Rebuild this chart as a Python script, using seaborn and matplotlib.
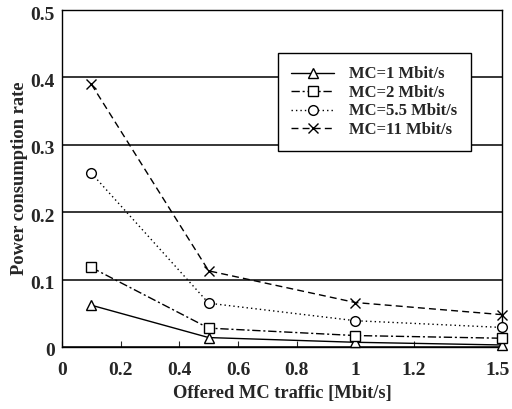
import matplotlib
matplotlib.use("Agg")
import matplotlib.pyplot as plt
import matplotlib.transforms as mtransforms
import seaborn as sns
import pandas as pd

traffic = [0.1, 0.5, 1.0, 1.5]
mc1 = [0.062, 0.014, 0.007, 0.003]
mc2 = [0.118, 0.028, 0.017, 0.013]
mc55 = [0.258, 0.065, 0.039, 0.029]
mc11 = [0.390, 0.113, 0.066, 0.048]
series_names = ["MC=1 Mbit/s", "MC=2 Mbit/s", "MC=5.5 Mbit/s", "MC=11 Mbit/s"]
xtick_vals = [0, 0.2, 0.4, 0.6, 0.8, 1.0, 1.2, 1.5]
xtick_labels = ["0", "0.2", "0.4", "0.6", "0.8", "1", "1.2", "1.5"]
ytick_vals = [0, 0.1, 0.2, 0.3, 0.4, 0.5]
ytick_labels = ["0", "0.1", "0.2", "0.3", "0.4", "0.5"]

rows = []
for name, vals in zip(series_names, [mc1, mc2, mc55, mc11]):
    for x, y in zip(traffic, vals):
        rows.append({"traffic": x, "rate": y, "series": name})
df = pd.DataFrame(rows)

sns.set_style("white")
plt.rcParams["font.family"] = ["Liberation Serif", "DejaVu Serif"]

fig = plt.figure(figsize=(5.12, 4.09), dpi=100)
ax = fig.add_axes([62/512, 1 - 347/409, 440/512, 337/409])

styles = {
    series_names[0]: ("^", (None, None)),
    series_names[1]: ("s", (6, 2, 1.5, 2)),
    series_names[2]: ("o", (1, 2.2)),
    series_names[3]: ("x", (5, 3)),
}
handles = []
for name in series_names:
    mk, ds = styles[name]
    sub = df[df["series"] == name]
    n_before = len(ax.lines)
    sns.lineplot(data=sub, x="traffic", y="rate", color="black", marker=mk,
                 linewidth=1.0, markersize=7, markerfacecolor="white",
                 markeredgecolor="black", markeredgewidth=1.0,
                 legend=False, ax=ax, clip_on=False, zorder=3)
    line = ax.lines[n_before]
    if ds[0] is not None:
        line.set_dashes(ds)
    handles.append(line)

ax.set_xlim(0, 1.5)
ax.set_ylim(0, 0.5)
ax.set_xticks(xtick_vals)
ax.set_xticklabels(xtick_labels, fontsize=14, fontweight="bold")
ax.set_yticks(ytick_vals)
ax.set_yticklabels(ytick_labels, fontsize=14, fontweight="bold")
ax.tick_params(axis="x", direction="in", length=4, width=0.8, pad=11, bottom=True)
ax.tick_params(axis="y", length=0, pad=5)
off = mtransforms.ScaledTranslation(0, -0.03, fig.dpi_scale_trans)
for lab in ax.get_yticklabels():
    lab.set_transform(lab.get_transform() + off)
last = ax.get_xticklabels()[-1]
last.set_transform(last.get_transform() + mtransforms.ScaledTranslation(-0.04, 0, fig.dpi_scale_trans))
ax.yaxis.grid(True, color="black", linewidth=1.1)
ax.xaxis.grid(False)
for s in ax.spines.values():
    s.set_color("black")
    s.set_linewidth(1.0)

ax.set_xlabel("Offered MC traffic [Mbit/s]", fontsize=13.3, fontweight="bold", labelpad=4)
ax.set_ylabel("Power consumption rate", fontsize=13.3, fontweight="bold", labelpad=2)

leg = ax.legend(handles=handles, labels=series_names, loc="upper left",
                bbox_to_anchor=(0.49, 0.872), frameon=True, fancybox=False,
                edgecolor="black", framealpha=1, fontsize=12, handlelength=2.6,
                borderpad=0.8, labelspacing=0.15, handletextpad=0.9,
                borderaxespad=0)
leg.get_frame().set_linewidth(1.0)
for t in leg.get_texts():
    t.set_fontweight("bold")

fig.savefig("out.png", dpi=100)
